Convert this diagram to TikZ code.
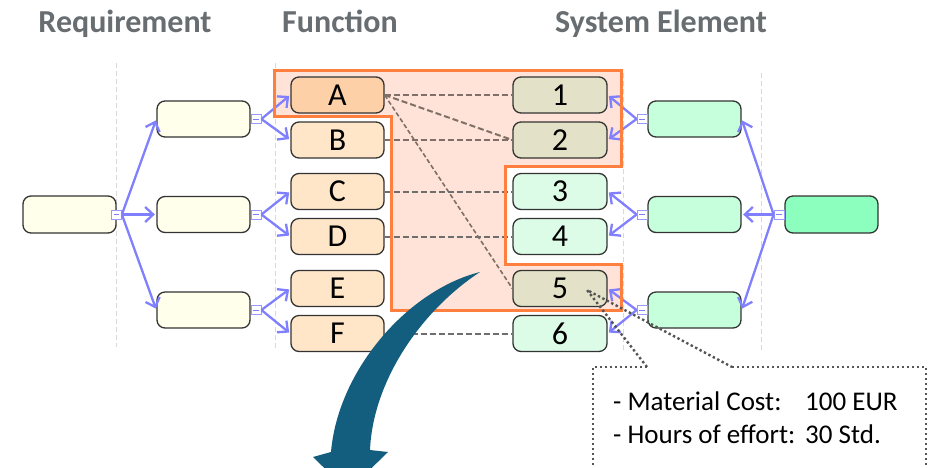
\documentclass[tikz,border=0pt]{standalone}
\usepackage{fontspec}
\setmainfont{Carlito}
\usetikzlibrary{arrows.meta}

\definecolor{reqfill}{HTML}{FFFFEB}
\definecolor{funfill}{HTML}{FFE6C9}
\definecolor{funhot}{HTML}{FDD0A8}
\definecolor{sysfill}{HTML}{DCFCE8}
\definecolor{syshot}{HTML}{E3E2C8}
\definecolor{parfill}{HTML}{C6FFDC}
\definecolor{rootfill}{HTML}{8CFFBF}
\definecolor{boxline}{HTML}{333333}
\definecolor{linkblue}{HTML}{8080FF}
\definecolor{tracegray}{HTML}{6E6E6E}
\definecolor{zonetrace}{HTML}{7F6F66}
\definecolor{guidegray}{HTML}{D9D9D9}
\definecolor{zoneorange}{HTML}{FF7F3F}
\definecolor{zonefill}{HTML}{FFE3D8}
\definecolor{bigblue}{HTML}{135E7E}
\definecolor{headgray}{HTML}{676D70}
\definecolor{calloutgray}{HTML}{555555}

\begin{document}
\begin{tikzpicture}[x=1pt,y=-1pt,
  box/.style={draw=boxline, line width=1.3pt, rounded corners=8pt,
    minimum width=93pt, minimum height=36pt, inner sep=0pt,
    font=\fontsize{32}{34}\selectfont},
  reqbox/.style={box, fill=reqfill},
  funbox/.style={box, fill=funfill},
  sysbox/.style={box, fill=sysfill, minimum width=94pt},
  parbox/.style={box, fill=parfill},
  rootbox/.style={box, fill=rootfill, minimum height=37pt},
  minusbox/.style={draw=linkblue!80, fill=white, line width=0.8pt,
    minimum width=10pt, minimum height=9pt, inner sep=0pt,
    path picture={\draw[linkblue, line width=1pt]
      ([xshift=-2.6pt]path picture bounding box.center) --
      ([xshift=2.6pt]path picture bounding box.center);}},
  link/.style={draw=linkblue, line width=2.3pt,
    -{Straight Barb[length=8pt,width=15pt]}, shorten >=1.5pt},
  trace/.style={draw=tracegray, line width=2pt, dash pattern=on 6pt off 3pt},
  guide/.style={draw=guidegray, line width=0.8pt, dash pattern=on 5pt off 3pt},
  header/.style={anchor=base, inner sep=0pt, text=headgray,
    font=\fontsize{32}{36}\selectfont\bfseries},
  note/.style={anchor=base west, inner sep=0pt,
    font=\fontsize{27}{32}\selectfont},
  dotline/.style={draw=calloutgray, line width=2.4pt, dash pattern=on 2.4pt off 2.6pt}
]
\useasboundingbox (0,0) rectangle (928,467);
\clip (0,0) rectangle (928,467);

% column headings
\node[header] (hreq) at (125,32) {Requirement};
\node[header] (hfun) at (340,32) {Function};
\node[header] (hsys) at (661,32) {System Element};

% column separators
\draw[guide] (116,63) -- (116,347);
\draw[guide] (275,63) -- (275,350);
\draw[guide] (623,73) -- (623,350);
\draw[guide] (761,73) -- (761,350);

% shaded impact zone (outline is drawn later, over the links)
\def\zonepath{(274,70) -- (621.5,70) -- (621.5,166) -- (505.5,166) -- (505.5,264)
  -- (621.5,264) -- (621.5,310.5) -- (391.5,310.5) -- (391.5,116.5)
  -- (274,116.5) -- cycle}
\fill[zonefill] \zonepath;

% requirement tree
\node[reqbox, minimum height=37pt] (rq0) at (69.5,214.5) {};
\node[reqbox] (rq1) at (203.5,119) {};
\node[reqbox] (rq2) at (203.5,214.5) {};
\node[reqbox] (rq3) at (203.5,310) {};

% functions
\node[funbox, fill=funhot] (fA) at (337.5,95) {A};
\node[funbox] (fB) at (337.5,140) {B};
\node[funbox] (fC) at (337.5,191.5) {C};
\node[funbox] (fD) at (337.5,236.5) {D};
\node[funbox] (fE) at (337.5,288.5) {E};
\node[funbox] (fF) at (337.5,333.5) {F};

% system elements
\node[sysbox, fill=syshot] (s1) at (560,95) {1};
\node[sysbox, fill=syshot] (s2) at (560,140) {2};
\node[sysbox] (s3) at (560,191.5) {3};
\node[sysbox] (s4) at (560,236.5) {4};
\node[sysbox, fill=syshot] (s5) at (560,288.5) {5};
\node[sysbox] (s6) at (560,333.5) {6};

% system tree
\node[parbox] (sp1) at (694.5,119) {};
\node[parbox] (sp2) at (694.5,214.5) {};
\node[parbox] (sp3) at (694.5,310) {};
\node[rootbox] (sr0) at (831.5,214.5) {};

% collapse handles
\node[minusbox] (rqm0) at (116.5,214.5) {};
\node[minusbox] (rqm1) at (256,119) {};
\node[minusbox] (rqm2) at (256,214.5) {};
\node[minusbox] (rqm3) at (256,310) {};
\node[minusbox] (spm1) at (642,119) {};
\node[minusbox] (spm2) at (642,214.5) {};
\node[minusbox] (spm3) at (642,310) {};
\node[minusbox] (srm0) at (779,214.5) {};

% decomposition links
\draw[link] (rqm0.east) -- (rq1.west);
\draw[link] (rqm0.east) -- (rq2.west);
\draw[link] (rqm0.east) -- (rq3.west);
\draw[link] (rqm1.east) -- (fA.west);
\draw[link] (rqm1.east) -- (fB.west);
\draw[link] (rqm2.east) -- (fC.west);
\draw[link] (rqm2.east) -- (fD.west);
\draw[link] (rqm3.east) -- (fE.west);
\draw[link] (rqm3.east) -- (fF.west);
\draw[link] (srm0.west) -- (sp1.east);
\draw[link] (srm0.west) -- (sp2.east);
\draw[link] (srm0.west) -- (sp3.east);
\draw[link] (spm1.west) -- (s1.east);
\draw[link] (spm1.west) -- (s2.east);
\draw[link] (spm2.west) -- (s3.east);
\draw[link] (spm2.west) -- (s4.east);
\draw[link] (spm3.west) -- (s5.east);
\draw[link] (spm3.west) -- (s6.east);

% allocation traces
\draw[trace, draw=zonetrace] (fA.east) -- (s1.west);
\draw[trace, draw=zonetrace] (fA.east) -- (s2.west);
\draw[trace, draw=zonetrace, line width=1.6pt, dash pattern=on 4.5pt off 2.5pt] (fA.east) -- (s5.west);
\draw[trace, draw=zonetrace] (fB.east) -- (s2.west);
\draw[trace] (fC.east) -- (s3.west);
\draw[trace] (fD.east) -- (s4.west);
\draw[trace] (fF.east) -- (s6.west);

% impact zone outline
\draw[zoneorange, line width=3pt] \zonepath;

% curved pointer arrow
\fill[bigblue] (480,272) .. controls (408,290) and (338,370) .. (331,452)
  -- (313,457) -- (348,491) -- (388,452) -- (370,450)
  .. controls (373,380) and (422,310) .. (480,272) -- cycle;

% callout for element 5
\coordinate (calltip) at (587,290);
\draw[dotline] (647,367) -- (calltip) -- (732,367);
\draw[dotline] (647,367) -- (593,367) -- (593,480);
\draw[dotline] (732,367) -- (926,367) -- (926,480);
\node[note] (n1a) at (613,410) {- Material Cost:};
\node[note] (n1b) at (805,410) {100 EUR};
\node[note] (n2a) at (613,443) {- Hours of effort:};
\node[note] (n2b) at (805,443) {30 Std.};
\end{tikzpicture}
\end{document}
